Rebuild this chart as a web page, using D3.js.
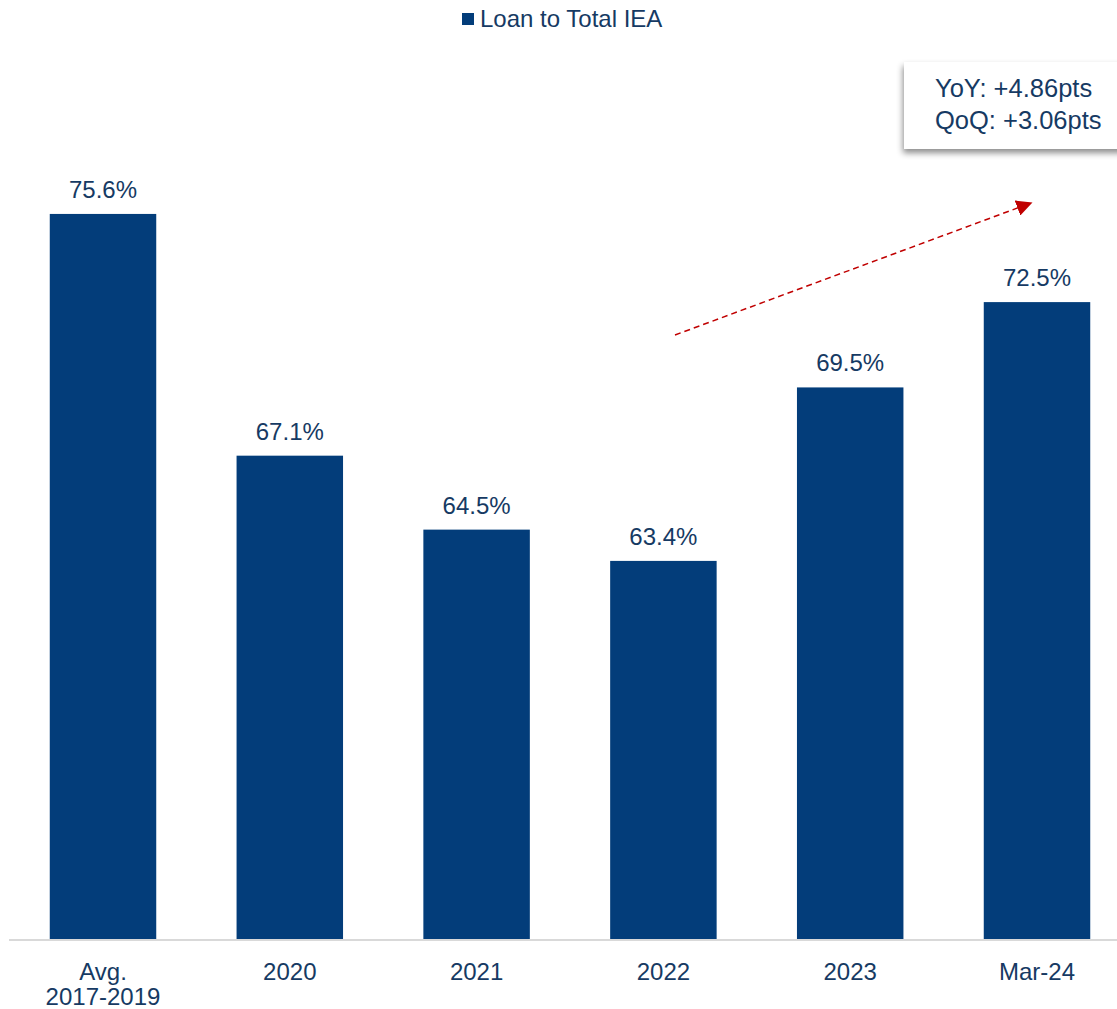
<!DOCTYPE html>
<html>
<head>
<meta charset="utf-8">
<script src="https://cdn.jsdelivr.net/npm/d3@7"></script>
<style>
  body { margin: 0; background: #fff; }
  text { font-family: "Liberation Sans", Arial, sans-serif; }
</style>
</head>
<body>
<div id="chart"></div>
<script>
// données du graphique
const categories = ["Avg.\n2017-2019", "2020", "2021", "2022", "2023", "Mar-24"];
const loanToIEA = [75.6, 67.1, 64.5, 63.4, 69.5, 72.5];
const seriesName = "Loan to Total IEA";
const notes = ["YoY: +4.86pts", "QoQ: +3.06pts"];

const width = 1117, height = 1009;
const barColor = "#033d7a", textColor = "#163a63";
const baseY = 939;

const svg = d3.select("#chart").append("svg")
  .attr("width", width)
  .attr("height", height);

const x = d3.scaleBand()
  .domain(categories)
  .range([9.6, 1130.4])
  .paddingInner(0.43)
  .paddingOuter(0.215);

// l'axe ne part pas de zéro
const y = d3.scaleLinear()
  .domain([50, 80])
  .range([942, 942 - 30 * 28.44]);

// barres
svg.selectAll(".bar")
  .data(loanToIEA)
  .enter()
  .append("rect")
  .attr("class", "bar")
  .attr("x", (d, i) => x(categories[i]))
  .attr("y", d => y(d))
  .attr("width", x.bandwidth())
  .attr("height", d => baseY + 1 - y(d))
  .attr("fill", barColor);

// étiquettes de valeurs
svg.selectAll(".val")
  .data(loanToIEA)
  .enter()
  .append("text")
  .attr("class", "val")
  .attr("x", (d, i) => x(categories[i]) + x.bandwidth() / 2)
  .attr("y", d => y(d) - 16)
  .attr("text-anchor", "middle")
  .attr("font-size", 24)
  .attr("fill", textColor)
  .text(d => d.toFixed(1) + "%");

// axe x
const xAxis = svg.append("g")
  .attr("transform", `translate(0,${baseY})`)
  .call(d3.axisBottom(x).tickSize(0).tickFormat(""));
xAxis.select(".domain").remove();
svg.append("line")
  .attr("x1", 9).attr("x2", width)
  .attr("y1", baseY + 1).attr("y2", baseY + 1)
  .attr("stroke", "#d9d9d9").attr("stroke-width", 2);

xAxis.selectAll(".tick").each(function(d) {
  const t = d3.select(this).append("text")
    .attr("y", 41)
    .attr("text-anchor", "middle")
    .attr("font-size", 24)
    .attr("fill", textColor);
  d.split("\n").forEach((line, k) => {
    t.append("tspan").attr("x", 0).attr("dy", k ? 25 : 0).text(line);
  });
});

// légende
const legend = svg.append("g").attr("transform", "translate(462,13)");
legend.append("rect").attr("width", 12).attr("height", 12).attr("fill", barColor);
legend.append("text").attr("x", 18).attr("y", 14)
  .attr("font-size", 24).attr("fill", textColor).text(seriesName);

// encadré annotation avec ombre
const defs = svg.append("defs");
const f = defs.append("filter").attr("id", "shadow")
  .attr("x", "-20%").attr("y", "-20%").attr("width", "140%").attr("height", "150%");
f.append("feDropShadow").attr("dx", -1).attr("dy", 4).attr("stdDeviation", 3)
  .attr("flood-color", "#000").attr("flood-opacity", 0.45);

svg.append("rect")
  .attr("x", 904).attr("y", 62).attr("width", 230).attr("height", 87)
  .attr("fill", "#fff").attr("filter", "url(#shadow)");

svg.selectAll(".note")
  .data(notes)
  .enter()
  .append("text")
  .attr("class", "note")
  .attr("x", 935)
  .attr("y", (d, i) => 97 + i * 32)
  .attr("font-size", 25.5)
  .attr("fill", textColor)
  .text(d => d);

// flèche pointillée rouge
defs.append("marker").attr("id", "arrow")
  .attr("viewBox", "0 0 10 10").attr("refX", 9).attr("refY", 5)
  .attr("markerWidth", 16).attr("markerHeight", 16)
  .attr("markerUnits", "userSpaceOnUse")
  .attr("orient", "auto")
  .append("path").attr("d", "M0,0 L10,5 L0,10 Z").attr("fill", "#c00000");

svg.append("line")
  .attr("x1", 675).attr("y1", 335)
  .attr("x2", 1031).attr("y2", 203)
  .attr("stroke", "#c00000")
  .attr("stroke-width", 1.5)
  .attr("stroke-dasharray", "6,4")
  .attr("marker-end", "url(#arrow)");
</script>
</body>
</html>
